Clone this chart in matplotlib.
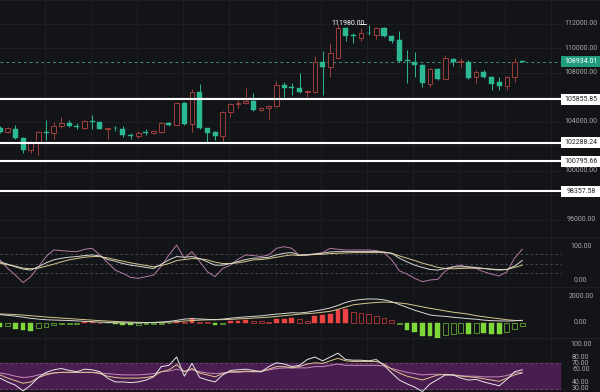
import numpy as np
import matplotlib
matplotlib.use("Agg")
import matplotlib.pyplot as plt
import matplotlib.transforms as mtransforms
from matplotlib.patches import Rectangle

# ---------------- données ----------------
opens = [103550, 103200, 103450, 102700, 101700, 102370, 103150, 103100, 103700, 103950,
         103700, 103520, 104100, 104000, 103430, 103550, 103430, 102940, 102860, 103180,
         103100, 103180, 103920, 103750, 105550, 103840, 106450, 103510, 103180, 102860,
         104820, 105470, 105550, 105710, 104980, 105140, 105310, 107020, 106850, 106780,
         106450, 106450, 108900, 108490, 109220, 111670, 111100, 110860, 111300, 111100,
         111670, 111020, 110690, 109060, 108900, 108650, 107100, 108330, 107510, 109140,
         108860, 108900, 107670, 108080, 107670, 107260, 106940, 107670, 108980]
highs = [103700, 103600, 103750, 102750, 102450, 103250, 104160, 104000, 104400, 104150,
         103900, 104170, 104570, 104050, 103550, 103680, 103650, 103100, 103260, 103430,
         103350, 104000, 104000, 105650, 105650, 106700, 107100, 103550, 103250, 104900,
         105550, 105800, 106780, 106370, 105250, 105400, 107350, 107260, 107180, 108000,
         106600, 109390, 109800, 110450, 111980, 111750, 111270, 111670, 111920, 111750,
         111750, 111100, 111430, 109880, 109710, 108730, 108400, 108400, 109470, 109220,
         109220, 109060, 108240, 108240, 107750, 107670, 107750, 109220, 109000]
lows = [103100, 103100, 102650, 101450, 101470, 101300, 102530, 102600, 103500, 103600,
        103400, 103430, 103430, 103400, 102600, 103270, 102780, 102610, 102700, 102940,
        103000, 103100, 103700, 103650, 103750, 103180, 103450, 102290, 102530, 102370,
        104400, 105140, 105450, 104900, 104900, 104250, 105200, 106040, 106200, 106370,
        106040, 106370, 106200, 107670, 109200, 110610, 110450, 110610, 111100, 110780,
        110940, 110450, 108900, 107180, 107670, 106860, 106860, 107430, 107430, 108570,
        108490, 107510, 107180, 107590, 106610, 106610, 106610, 107260, 108900]
closes = [103200, 103500, 102700, 101700, 102370, 103180, 103080, 103670, 103950, 103650,
          103620, 104100, 103980, 103430, 103500, 103480, 102940, 102860, 103100, 103100,
          103260, 103920, 103750, 105550, 103840, 106450, 103510, 103100, 102860, 104820,
          105470, 105550, 105710, 104980, 105140, 105310, 107020, 106780, 106780, 106450,
          106530, 108900, 108490, 109630, 111670, 111020, 111020, 111270, 111230, 111670,
          111020, 110610, 108980, 108980, 108650, 107180, 108330, 107510, 109220, 108900,
          108940, 107590, 108080, 107670, 107100, 106940, 107670, 108900, 108934.01]

price_ticks = [112000, 110000, 108000, 104000, 100000, 96000]
levels = [105855.85, 102288.24, 100795.66, 98357.58]
last_price = 108934.01
high_label = "111980.00"
high_value = 111980

kdj_k = [55, 48, 40, 33, 30, 40, 52, 61, 66, 69, 71, 74, 76, 73, 62, 57, 50, 45, 42, 38,
         35, 48, 61, 71, 69, 71, 65, 55, 45, 45, 50, 56, 62, 66, 67, 69, 76, 81, 83, 76,
         77, 79, 81, 85, 86, 86, 86, 86, 86, 86, 85, 81, 66, 55, 45, 38, 32, 30, 35, 40,
         40, 40, 38, 35, 32, 30, 32, 42, 59]
kdj_d = [51, 46, 42, 36, 34, 36, 42, 48, 55, 61, 65, 69, 71, 71, 67, 62, 57, 52, 48, 44,
         40, 44, 50, 59, 62, 65, 64, 61, 54, 50, 50, 52, 56, 61, 62, 65, 69, 73, 76, 74,
         76, 77, 78, 80, 81, 82, 83, 83, 83, 83, 83, 81, 73, 66, 59, 51, 45, 38, 35, 34,
         35, 36, 36, 35, 33, 32, 32, 38, 45]
kdj_j = [61, 35, 15, -8, 10, 40, 71, 91, 89, 87, 86, 93, 96, 76, 53, 30, 20, 8, 5, 10,
         15, 42, 76, 106, 66, 86, 56, 25, 10, 35, 45, 63, 76, 74, 71, 76, 96, 101, 96, 74,
         75, 79, 83, 96, 93, 91, 91, 91, 91, 89, 83, 61, 28, 18, 5, -5, 0, 2, 28, 40,
         45, 38, 35, 25, 18, 12, 25, 66, 93]
kdj_ticks = [100, 0]
kdj_dash = [80, 50, 20]

macd_dif = [640, 590, 530, 450, 360, 300, 250, 230, 210, 190, 160, 130, 100, 70, 40, 20, 10, 0, 10, 20,
            40, 70, 120, 200, 300, 340, 310, 280, 260, 300, 370, 420, 470, 510, 550, 620, 680, 730, 790, 770,
            830, 930, 1030, 1160, 1350, 1580, 1730, 1810, 1850, 1840, 1780, 1640, 1420, 1200, 980, 800, 620, 550, 510, 440,
            390, 330, 290, 220, 180, 160, 150, 170, 210]
macd_dea = [700, 680, 650, 610, 560, 510, 460, 420, 380, 340, 300, 260, 220, 180, 150, 120, 90, 70, 50, 40,
            40, 50, 70, 100, 150, 190, 220, 240, 250, 260, 280, 310, 340, 380, 410, 450, 500, 560, 620, 680,
            720, 760, 830, 900, 1050, 1230, 1400, 1470, 1530, 1580, 1610, 1590, 1540, 1470, 1360, 1240, 1130, 1030, 930, 830,
            760, 680, 560, 480, 400, 330, 250, 200, 180]
macd_hist = [-300, -200, -460, -560, -580, -380, -300, -130, -60, -50, -40, 40, 50, 30, -30, -60, -150, -170, -130, -110,
             -100, -40, -10, 80, 60, 300, 100, 40, -120, -50, 130, 180, 200, 150, 120, 110, 280, 330, 350, 300,
             150, 510, 590, 670, 970, 1050, 850, 770, 670, 560, 410, 260, -80, -510, -720, -970, -1030, -1130, -920, -820,
             -770, -820, -770, -800, -830, -850, -720, -460, -260]
macd_ticks = [2000, 0]

rsi_6 = [47, 41, 36, 27, 36, 48, 56, 60, 62, 59, 57, 61, 60, 57, 47, 41, 41, 40, 41, 44,
         49, 65, 67, 80, 50, 70, 48, 44, 41, 52, 59, 60, 61, 59, 57, 65, 71, 69, 65, 67,
         76, 80, 74, 80, 86, 76, 75, 75, 74, 76, 67, 55, 44, 38, 33, 26, 38, 45, 52, 52,
         47, 44, 45, 41, 38, 35, 45, 57, 60]
rsi_12 = [52, 47, 43, 39, 41, 48, 52, 55, 56, 56, 56, 56, 56, 54, 50, 48, 47, 47, 47, 48,
          50, 57, 60, 68, 57, 62, 55, 52, 49, 54, 57, 57, 58, 57, 57, 61, 65, 65, 63, 65,
          69, 71, 70, 74, 78, 74, 73, 73, 73, 73, 69, 61, 55, 50, 47, 44, 48, 52, 53, 52,
          50, 49, 48, 46, 44, 42, 47, 52, 55]
rsi_24 = [55, 53, 50, 48, 49, 52, 54, 55, 56, 56, 56, 56, 56, 55, 54, 53, 52, 52, 52, 53,
          54, 57, 58, 61, 58, 60, 57, 55, 54, 55, 56, 56, 57, 57, 58, 60, 62, 63, 63, 63,
          63, 65, 65, 67, 69, 67, 67, 67, 67, 67, 66, 62, 59, 56, 54, 52, 53, 53, 52, 52,
          51, 50, 50, 49, 49, 49, 51, 55, 56]
rsi_ticks = [100, 80, 70, 60, 40, 30]

# ---------------- style ----------------
BG = '#131418'
GRID = '#1e2024'
TXT = '#a8a8a8'
UP = '#a0403c'
DOWN = '#2cb892'
plt.rcParams['font.family'] = ['Roboto', 'DejaVu Sans']

W, H = 600, 392
fig = plt.figure(figsize=(6, 3.92), dpi=100)
fig.patch.set_facecolor(BG)

def panel(top, bottom, ylim):
    ax = fig.add_axes([0, 1 - bottom / H, 1, (bottom - top) / H])
    ax.set_facecolor(BG)
    ax.set_xlim(0, 600 / 7.68)
    ax.set_ylim(*ylim)
    for s in ax.spines.values():
        s.set_visible(False)
    ax.set_xticks([])
    ax.set_yticks([])
    # grille verticale + séparation en haut du panneau
    for gx in np.arange(5.86, 73, 5.99):
        ax.axvline(gx, color=GRID, lw=0.6, zorder=0)
    ax.axhline(ylim[1], color=GRID, lw=1.0, zorder=0)
    return ax

def right_label(ax, y, s, color=TXT):
    tr = mtransforms.blended_transform_factory(ax.transAxes, ax.transData)
    ax.text(0.968, y, s, transform=tr, color=color, fontsize=5, ha='center', va='center')

x = np.arange(len(opens))

# ---------------- prix ----------------
ax = panel(0, 237, (94612, 113959))
for p in range(96000, 113000, 2000):
    ax.axhline(p, color=GRID, lw=0.6, zorder=0, xmax=0.935)

for i in x:
    o, h, l, c = opens[i], highs[i], lows[i], closes[i]
    top, bot = max(o, c), min(o, c)
    if bot == top or top - bot < 70:
        top = bot + 70
    if c >= o:
        ax.vlines(i, top, h, color=UP, lw=0.7, zorder=2)
        ax.vlines(i, l, bot, color=UP, lw=0.7, zorder=2)
        ax.add_patch(Rectangle((i - 0.3, bot), 0.6, top - bot, facecolor=BG,
                               edgecolor=UP, lw=0.7, zorder=3))
    else:
        ax.vlines(i, l, h, color=DOWN, lw=0.7, zorder=2)
        ax.add_patch(Rectangle((i - 0.33, bot), 0.66, top - bot, facecolor=DOWN,
                               edgecolor=DOWN, lw=0.3, zorder=3))

for p in price_ticks:
    right_label(ax, p, f"{p:.2f}")

tr = mtransforms.blended_transform_factory(ax.transAxes, ax.transData)
box_h = 900
for lv in levels:
    ax.plot([0, 0.935], [lv, lv], transform=tr, color='white', lw=1.5, zorder=4)
    ax.add_patch(Rectangle((0.935, lv - box_h / 2), 0.065, box_h, transform=tr,
                           facecolor='white', edgecolor='none', zorder=5))
    ax.text(0.968, lv, f"{lv:.2f}", transform=tr, color='#222222', fontsize=5,
            ha='center', va='center', zorder=6)

ax.plot([0, 0.935], [last_price, last_price], transform=tr, color='#3f8f7c', lw=0.7,
        ls=(0, (3, 3)), zorder=1)
ax.add_patch(Rectangle((0.935, last_price - box_h / 2), 0.065, box_h, transform=tr,
                       facecolor='#1f9c7c', edgecolor='none', zorder=5))
ax.text(0.968, last_price, f"{last_price:.2f}", transform=tr, color='white', fontsize=5,
        ha='center', va='center', zorder=6)

hi = int(np.argmax(highs))
ax.text(hi - 0.8, high_value + 60, high_label, color='white', fontsize=5, ha='left',
        va='center', zorder=6)
ax.plot([hi + 2.9, hi + 3.6], [high_value + 60] * 2, color='white', lw=0.6)

# ---------------- KDJ ----------------
ax1 = panel(237, 287, (-21.2, 130.3))
for d in kdj_dash:
    ax1.axhline(d, color='#505257', lw=0.6, ls=(0, (3, 3)), xmax=0.935)
ax1.plot(x, kdj_j, color='#b47aa6', lw=0.7)
ax1.plot(x, kdj_d, color='#d7c98f', lw=0.7)
ax1.plot(x, kdj_k, color='#d8d8d0', lw=0.7)
for t in kdj_ticks:
    right_label(ax1, t, f"{t:.2f}")

# ---------------- MACD ----------------
ax2 = panel(287, 338, (-1154, 2769))
prev = 0
for i, v in enumerate(macd_hist):
    grow = abs(v) >= abs(prev)
    col = '#ee4343' if v > 0 else '#7ed83a'
    if grow:
        ax2.bar(i, v, width=0.62, color=col, edgecolor=col, lw=0.3)
    else:
        ax2.bar(i, v, width=0.62, facecolor='none', edgecolor=col, lw=0.6, alpha=0.75)
    prev = v
ax2.plot(x, macd_dea, color='#d7c98f', lw=0.7)
ax2.plot(x, macd_dif, color='#d8d8d0', lw=0.7)
for t in macd_ticks:
    right_label(ax2, t, f"{t:.2f}")

# ---------------- RSI ----------------
ax3 = panel(338, 392, (25.3, 109.7))
ax3.fill_between([0, 560 / 7.68], 30, 70, color='#4a1d50', zorder=0)
for d in [70, 30]:
    ax3.axhline(d, color='#6d5072', lw=0.6, ls=(0, (3, 3)), xmax=0.935)
ax3.plot(x, rsi_24, color='#c78ab8', lw=0.7)
ax3.plot(x, rsi_12, color='#e0c48f', lw=0.7)
ax3.plot(x, rsi_6, color='#e6e6e6', lw=0.7)
for t in rsi_ticks:
    right_label(ax3, t, f"{t:.2f}")

fig.savefig("out.png", dpi=100, facecolor=BG)
